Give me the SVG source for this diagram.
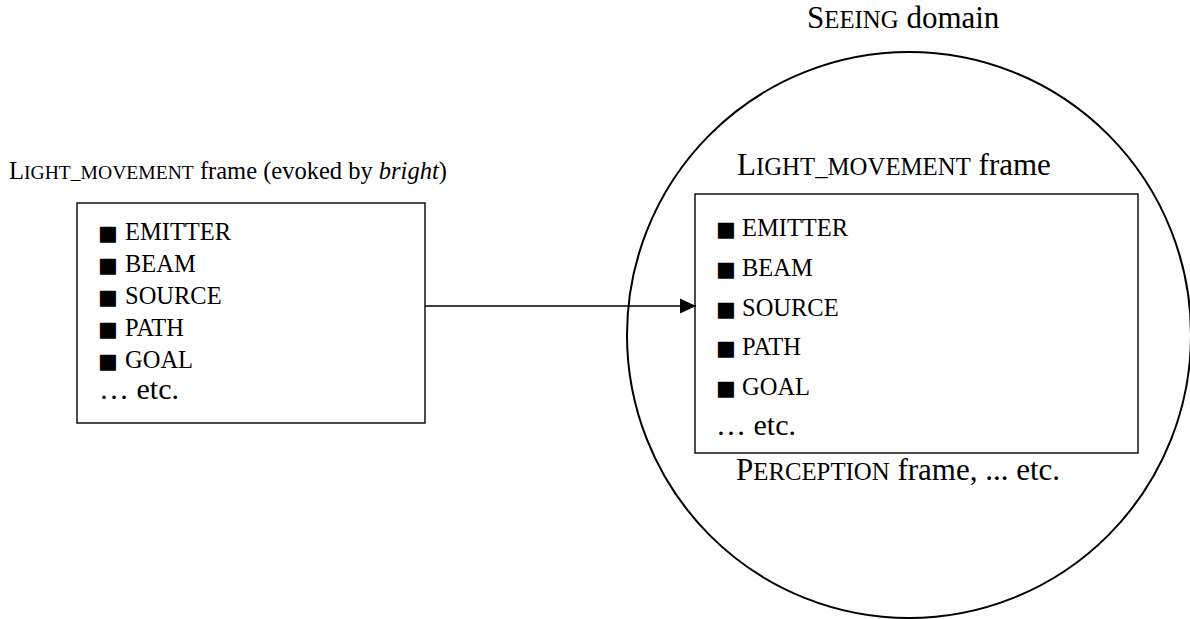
<svg xmlns="http://www.w3.org/2000/svg" width="1190" height="619" viewBox="0 0 1190 619">
<style>
text{font-family:"Liberation Serif","Times New Roman",serif;fill:#000}
.lbl{font-size:31px}
.lbls{font-size:24.5px}
.sc{font-size:0.8em}
.item{font-size:24.5px}
.bul{font-family:"DejaVu Sans","Liberation Serif",sans-serif;font-size:21px}
.etc{font-size:30px}
.box{fill:#fff;stroke:#000;stroke-width:1.4}
.dom{fill:none;stroke:#000;stroke-width:2}
.conn{stroke:#000;stroke-width:1.4;fill:none}
</style>
<defs>
<marker id="arr" markerWidth="16" markerHeight="16" refX="16" refY="8" orient="auto" markerUnits="userSpaceOnUse">
<path d="M0,0.5 L16,8 L0,15.5 Z" fill="#000"/>
</marker>
</defs>
<rect width="1190" height="619" fill="#fff"/>

<g id="seeing-domain">
<ellipse class="dom" cx="909" cy="335" rx="282" ry="283"/>
<text class="lbl" x="807" y="28">S<tspan class="sc">EEING</tspan> domain</text>
</g>

<g id="left-frame">
<text class="lbls" x="9" y="179">L<tspan class="sc">IGHT_MOVEMENT</tspan> frame (evoked by <tspan font-style="italic">bright</tspan>)</text>
<rect class="box" x="77" y="203" width="348" height="220"/>
<text class="item" y="240"><tspan class="bul" x="98">■</tspan><tspan x="125">EMITTER</tspan></text>
<text class="item" y="272"><tspan class="bul" x="98">■</tspan><tspan x="125">BEAM</tspan></text>
<text class="item" y="304"><tspan class="bul" x="98">■</tspan><tspan x="125">SOURCE</tspan></text>
<text class="item" y="336"><tspan class="bul" x="98">■</tspan><tspan x="125">PATH</tspan></text>
<text class="item" y="368"><tspan class="bul" x="98">■</tspan><tspan x="125">GOAL</tspan></text>
<text class="etc" x="99" y="399">… etc.</text>
</g>

<g id="inner-frame">
<text class="lbl" x="737" y="175">L<tspan class="sc">IGHT_MOVEMENT</tspan> frame</text>
<rect class="box" x="695" y="194" width="443" height="259"/>
<text class="item" y="236"><tspan class="bul" x="716">■</tspan><tspan x="742">EMITTER</tspan></text>
<text class="item" y="276"><tspan class="bul" x="716">■</tspan><tspan x="742">BEAM</tspan></text>
<text class="item" y="316"><tspan class="bul" x="716">■</tspan><tspan x="742">SOURCE</tspan></text>
<text class="item" y="355"><tspan class="bul" x="716">■</tspan><tspan x="742">PATH</tspan></text>
<text class="item" y="395"><tspan class="bul" x="716">■</tspan><tspan x="742">GOAL</tspan></text>
<text class="etc" x="716" y="435">… etc.</text>
</g>

<g id="perception-frame">
<text class="lbl" x="736" y="480">P<tspan class="sc">ERCEPTION</tspan> frame, ... etc.</text>
</g>

<g id="connectors">
<line class="conn" x1="425" y1="306" x2="696" y2="306" marker-end="url(#arr)"/>
</g>
</svg>
